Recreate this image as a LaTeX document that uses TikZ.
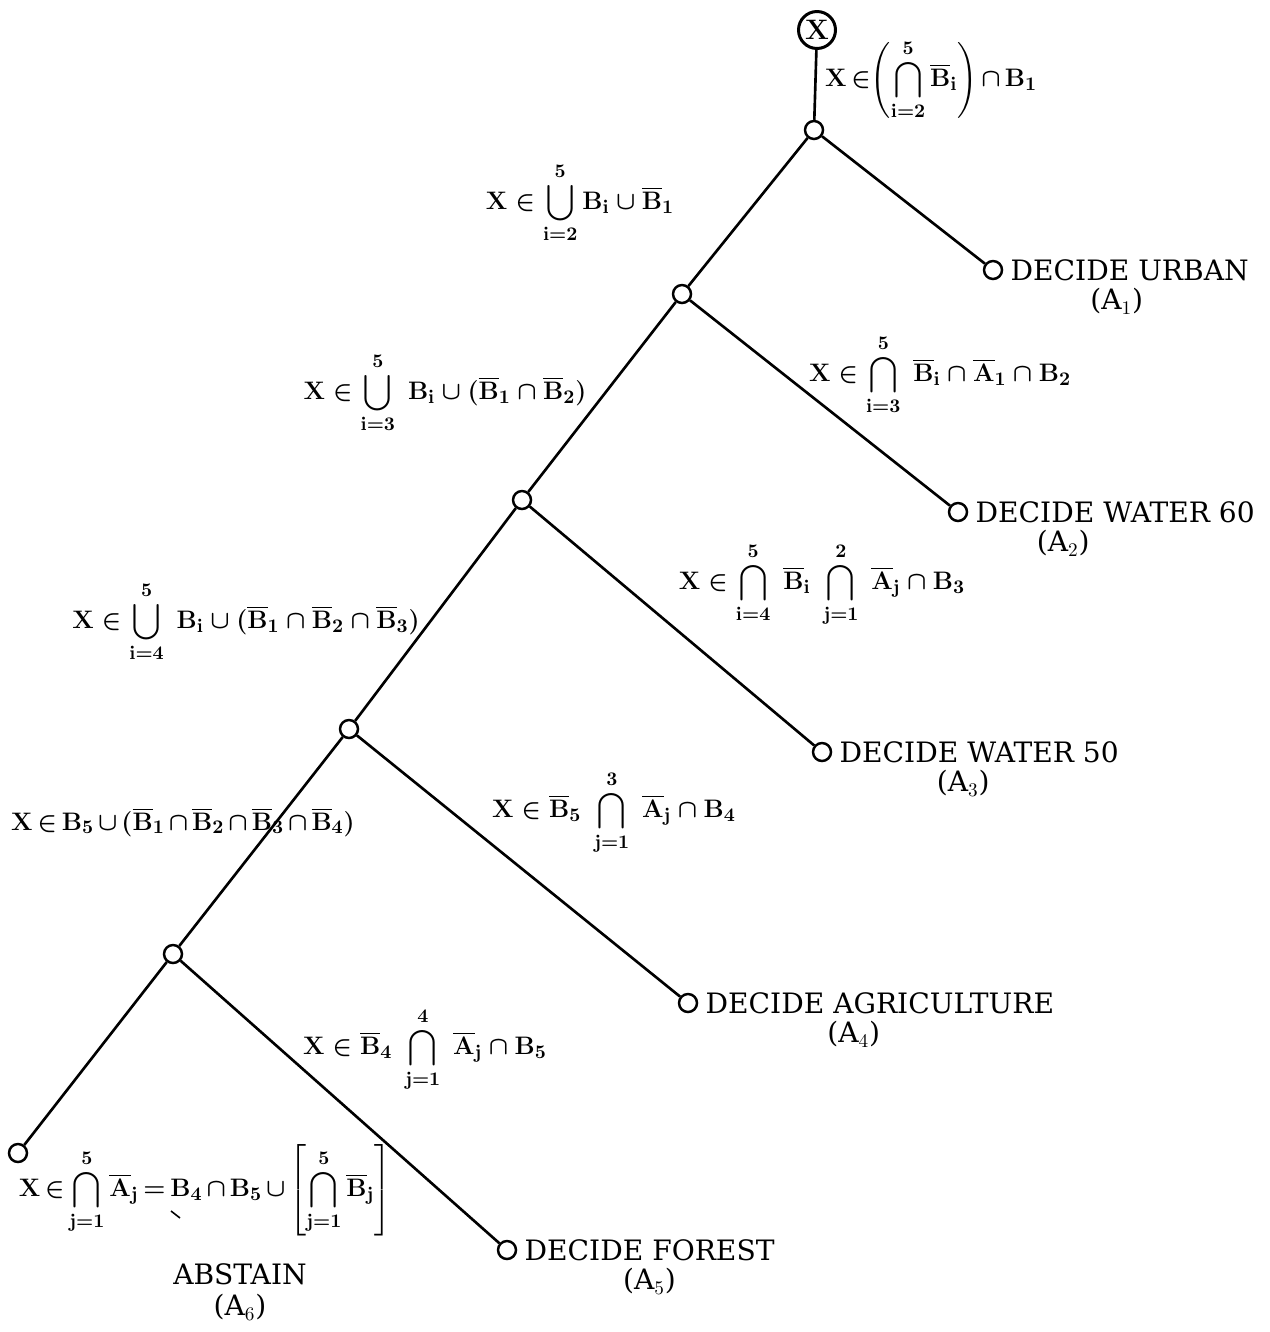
\documentclass[tikz,border=0pt]{standalone}
\usepackage{amsmath}
\usepackage{fontspec}
\usepackage{tikz}
\usetikzlibrary{positioning}
\newfontfamily\zielfont{DejaVu Serif}
\newcommand{\Bv}[1]{\mathbf{B}_{\mathbf{#1}}}
\newcommand{\Bq}[1]{\overline{\mathbf{B}}_{\mathbf{#1}}}
\newcommand{\Aq}[1]{\overline{\mathbf{A}}_{\mathbf{#1}}}
\newcommand{\Xin}{\mathbf{X}\in}
\newcommand{\engmath}{\medmuskip=2.5mu\relax\thickmuskip=3mu\relax}

\begin{document}
\begin{tikzpicture}[
    x=0.02cm, y=-0.02cm,
    font=\fontsize{14}{16}\selectfont,
    knot/.style={draw, circle, line width=1.4pt, minimum size=0.36cm, inner sep=0pt},
    wurzel/.style={draw, circle, line width=1.7pt, minimum size=0.74cm, inner sep=0pt,
                   font=\fontsize{16}{18}\selectfont\bfseries},
    zweig/.style={line width=1.5pt},
    bedingung/.style={inner sep=1pt, font=\fontsize{15}{17}\selectfont\boldmath},
    ziel/.style={inner sep=1pt, font=\fontsize{16}{18}\zielfont}
  ]
    \useasboundingbox (0,0) rectangle (1270,1332);

    \node[wurzel] (x) at (817,30) {X};
    \node[knot] (n1) at (814,130) {};
    \node[knot] (n2) at (682,294) {};
    \node[knot] (n3) at (522,500) {};
    \node[knot] (n4) at (349,729) {};
    \node[knot] (n5) at (173,954) {};
    \node[knot] (a1) at (993,270) {};
    \node[knot] (a2) at (958,512) {};
    \node[knot] (a3) at (822,752) {};
    \node[knot] (a4) at (688,1003) {};
    \node[knot] (a5) at (507,1250) {};
    \node[knot] (a6) at (18,1153) {};
    \foreach \p/\c in {x/n1, n1/n2, n1/a1, n2/n3, n2/a2, n3/n4, n3/a3,
                       n4/n5, n4/a4, n5/a6, n5/a5}
      \draw[zweig] (\p) -- (\c);

    % Ausgaenge
    \node[ziel, right=3pt of a1] (t1) {DECIDE URBAN};
    \node[ziel, below=2pt of t1, xshift=-0.26cm] {(A$_1$)};
    \node[ziel, right=3pt of a2] (t2) {DECIDE WATER 60};
    \node[ziel, below=2pt of t2, xshift=-1.04cm] {(A$_2$)};
    \node[ziel, right=3pt of a3] (t3) {DECIDE WATER 50};
    \node[ziel, below=2pt of t3, xshift=-0.32cm] {(A$_3$)};
    \node[ziel, right=3pt of a4] (t4) {DECIDE AGRICULTURE};
    \node[ziel, below=2pt of t4, xshift=-0.52cm] {(A$_4$)};
    \node[ziel, right=3pt of a5] (t5) {DECIDE FOREST};
    \node[ziel, below=2pt of t5] {(A$_5$)};
    \node[ziel, align=center] (t6) at (240,1292) {ABSTAIN\\(A$_6$)};
    \coordinate (tick) at (171,1211);
    \draw[line width=0.9pt] (tick) -- ++(9,7);

    % Bedingungen
    \node[bedingung, anchor=west] (c1) at (823,80)
      {$\engmath\displaystyle \Xin\!\left(\bigcap_{\mathbf{i=2}}^{5}\Bq{i}\right)\cap \Bv{1}$};
    \node[bedingung] (c2) at (580,203)
      {$\displaystyle \Xin\bigcup_{\mathbf{i=2}}^{5}\Bv{i}\cup\Bq{1}$};
    \node[bedingung] (c3) at (445,393)
      {$\displaystyle \Xin\bigcup_{\mathbf{i=3}}^{5}\;\Bv{i}\cup(\Bq{1}\cap\Bq{2})$};
    \node[bedingung] (c4) at (940,375)
      {$\displaystyle \Xin\bigcap_{\mathbf{i=3}}^{5}\;\Bq{i}\cap\Aq{1}\cap \Bv{2}$};
    \node[bedingung] (c5) at (822,585)
      {$\displaystyle \Xin\bigcap_{\mathbf{i=4}}^{5}\;\Bq{i}\;\bigcap_{\mathbf{j=1}}^{2}\;\Aq{j}\cap \Bv{3}$};
    \node[bedingung] (c6) at (246,622)
      {$\displaystyle \Xin\bigcup_{\mathbf{i=4}}^{5}\;\Bv{i}\cup(\Bq{1}\cap\Bq{2}\cap\Bq{3})$};
    \node[bedingung] (c7) at (183,822)
      {$\engmath \Xin \Bv{5}\cup(\Bq{1}\cap\Bq{2}\cap\Bq{3}\cap\Bq{4})$};
    \node[bedingung] (c8) at (614,813)
      {$\displaystyle \Xin\Bq{5}\;\bigcap_{\mathbf{j=1}}^{3}\;\Aq{j}\cap \Bv{4}$};
    \node[bedingung] (c9) at (425,1050)
      {$\displaystyle \Xin\Bq{4}\;\bigcap_{\mathbf{j=1}}^{4}\;\Aq{j}\cap \Bv{5}$};
    \node[bedingung] (c10) at (205,1190)
      {$\engmath\displaystyle \Xin\bigcap_{\mathbf{j=1}}^{5}\Aq{j}=\Bv{4}\cap \Bv{5}\cup\left[\bigcap_{\mathbf{j=1}}^{5}\Bq{j}\right]$};
  \end{tikzpicture}
\end{document}
